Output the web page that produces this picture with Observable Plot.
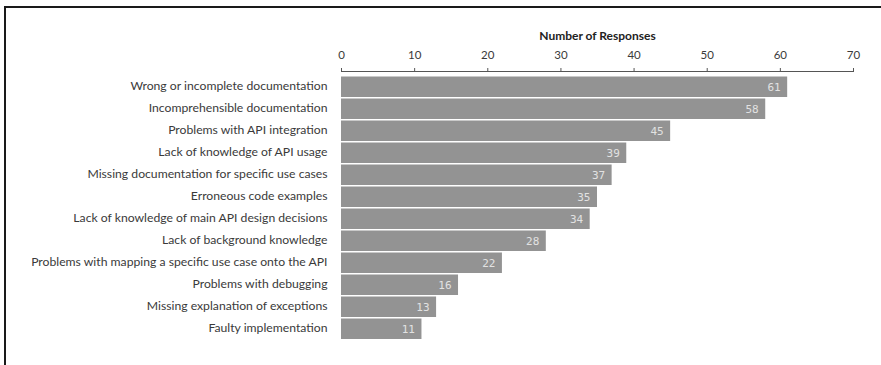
<!DOCTYPE html>
<html>
<head>
<meta charset="utf-8">
<script src="https://cdn.jsdelivr.net/npm/d3@7"></script>
<script src="https://cdn.jsdelivr.net/npm/@observablehq/plot@0.6"></script>
<style>
  html, body { margin: 0; padding: 0; background: #fff; }
  #wrap { position: absolute; left: 4px; top: 6px; width: 877px; height: 359px;
          border-top: 2px solid #1a1a1a; border-left: 2px solid #1a1a1a; box-sizing: border-box; }
  #chart { position: absolute; left: 0; top: 0; }
  g[fill="#e2e2e2"], g[fill="#e2e2e2"] text { font-family: "DejaVu Sans Mono", "Liberation Mono", monospace !important; }
</style>
</head>
<body>
<div id="wrap"></div>
<div id="chart"></div>
<script>
const categories = [
  "Wrong or incomplete documentation",
  "Incomprehensible documentation",
  "Problems with API integration",
  "Lack of knowledge of API usage",
  "Missing documentation for specific use cases",
  "Erroneous code examples",
  "Lack of knowledge of main API design decisions",
  "Lack of background knowledge",
  "Problems with mapping a specific use case onto the API",
  "Problems with debugging",
  "Missing explanation of exceptions",
  "Faulty implementation"
];
const responses = [61, 58, 45, 39, 37, 35, 34, 28, 22, 16, 13, 11];
const xTicks = [0, 10, 20, 30, 40, 50, 60, 70];
const axisTitle = "Number of Responses";

const data = categories.map((c, i) => ({category: c, value: responses[i]}));

const chart = Plot.plot({
  width: 881,
  height: 365,
  marginTop: 71,
  marginBottom: 23,
  marginLeft: 341,
  marginRight: 28,
  style: {fontFamily: "Lato, 'Liberation Sans', sans-serif", fontSize: "12px", color: "#3a3a3a", background: "transparent"},
  x: {domain: [0, 70], ticks: xTicks},
  y: {domain: categories, padding: 0},
  marks: [
    Plot.barX(data, {x: "value", y: "category", fill: "#939393", insetTop: 1.5, insetBottom: 0}),
    Plot.text(data, {x: "value", y: "category", text: d => String(d.value), textAnchor: "end", dx: -7, dy: 1,
      fill: "#e2e2e2", fontFamily: "DejaVu Sans Mono", fontSize: 11}),
    Plot.axisX({anchor: "top", ticks: xTicks, tickSize: 4, tickPadding: 9, label: null, stroke: "#555", fontSize: 11.5}),
    Plot.frame({anchor: "top", stroke: "#555"}),
    Plot.axisY({anchor: "left", tickSize: 0, tickPadding: 14, label: null, fontSize: 12.2}),
    Plot.text([axisTitle], {frameAnchor: "top", lineAnchor: "middle", dy: -35, fontWeight: "bold", fontSize: 12, fill: "#222"})
  ]
});
document.getElementById("chart").appendChild(chart);
</script>
</body>
</html>
